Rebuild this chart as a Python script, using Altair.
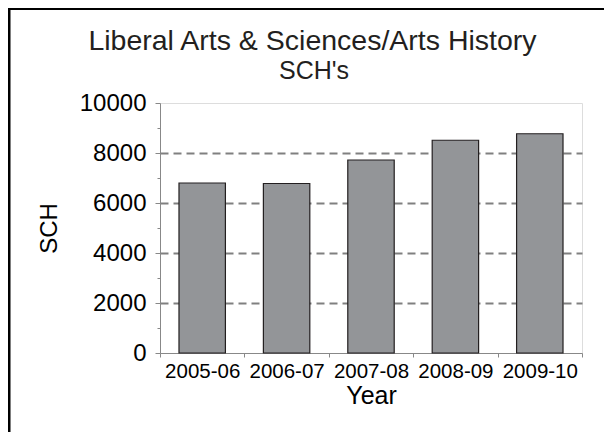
import altair as alt
import pandas as pd

years = ["2005-06", "2006-07", "2007-08", "2008-09", "2009-10"]
sch = [6800, 6780, 7720, 8510, 8770]
title_lines = ["Liberal Arts & Sciences/Arts History", "SCH's"]

df = pd.DataFrame({"Year": years, "SCH": sch})

FONT = "Liberation Sans"
TXT = "#231f20"

bars = alt.Chart(df).mark_bar(
    width=alt.RelativeBandSize(0.55),
    fill="#939598",
    stroke=TXT,
    strokeWidth=1.2,
).encode(
    x=alt.X(
        "Year:N",
        sort=years,
        scale=alt.Scale(paddingInner=0, paddingOuter=0),
        axis=alt.Axis(
            title="Year",
            labelAngle=0,
            labelFontSize=20.5,
            labelPadding=4,
            tickBand="extent",
            tickSize=4,
            titleFontSize=25,
            titleFontWeight=400,
            titlePadding=2,
            grid=False,
        ),
    ),
    y=alt.Y(
        "SCH:Q",
        scale=alt.Scale(domain=[0, 10000], nice=False),
        axis=alt.Axis(
            title="SCH",
            values=list(range(0, 10001, 1000)),
            labelExpr="datum.value % 2000 == 0 ? datum.label : ''",
            format="d",
            labelFontSize=24,
            labelPadding=9,
            tickSize={"condition": {"test": "datum.value % 2000 != 0", "value": 3}, "value": 5},
            grid=True,
            gridDash=[8, 5],
            gridColor="#808080",
            gridWidth=2,
            gridOpacity={
                "condition": {
                    "test": "datum.value % 2000 != 0 || datum.value == 0 || datum.value == 10000",
                    "value": 0,
                },
                "value": 1,
            },
            titleFontSize=24,
            titleFontWeight=400,
            titlePadding=18,
        ),
    ),
)

frame_df = pd.DataFrame({"k": [0]})
left_border = alt.Chart(frame_df).mark_rule(color="black", strokeWidth=3).encode(
    x=alt.value(-151), y=alt.value(-96), y2=alt.value(330)
)
top_border = alt.Chart(frame_df).mark_rule(color="black", strokeWidth=3).encode(
    x=alt.value(-153), x2=alt.value(450), y=alt.value(-94.5)
)

title_df = pd.DataFrame({"t": [title_lines[0]]})
sub_df = pd.DataFrame({"t": [title_lines[1]]})
title_main = alt.Chart(title_df).mark_text(
    font=FONT, fontSize=28.5, color=TXT, align="center", baseline="alphabetic"
).encode(text="t:N", x=alt.value(152.5), y=alt.value(-53))
title_sub = alt.Chart(sub_df).mark_text(
    font=FONT, fontSize=25, color=TXT, align="center", baseline="alphabetic"
).encode(text="t:N", x=alt.value(154), y=alt.value(-24))

chart = alt.layer(bars, left_border, top_border, title_main, title_sub).properties(
    width=422,
    height=250,
    padding={"left": 152, "top": 95, "right": 22, "bottom": 79},
    autosize=alt.AutoSizeParams(type="none"),
).configure_axis(
    labelFont=FONT,
    titleFont=FONT,
    labelColor=TXT,
    titleColor=TXT,
    domainColor="#555555",
    tickColor="#555555",
).configure_view(
    stroke="#555555", strokeWidth=1
).configure(background="white")

chart.save("out.html", embed_options={"renderer": "svg", "actions": False})
